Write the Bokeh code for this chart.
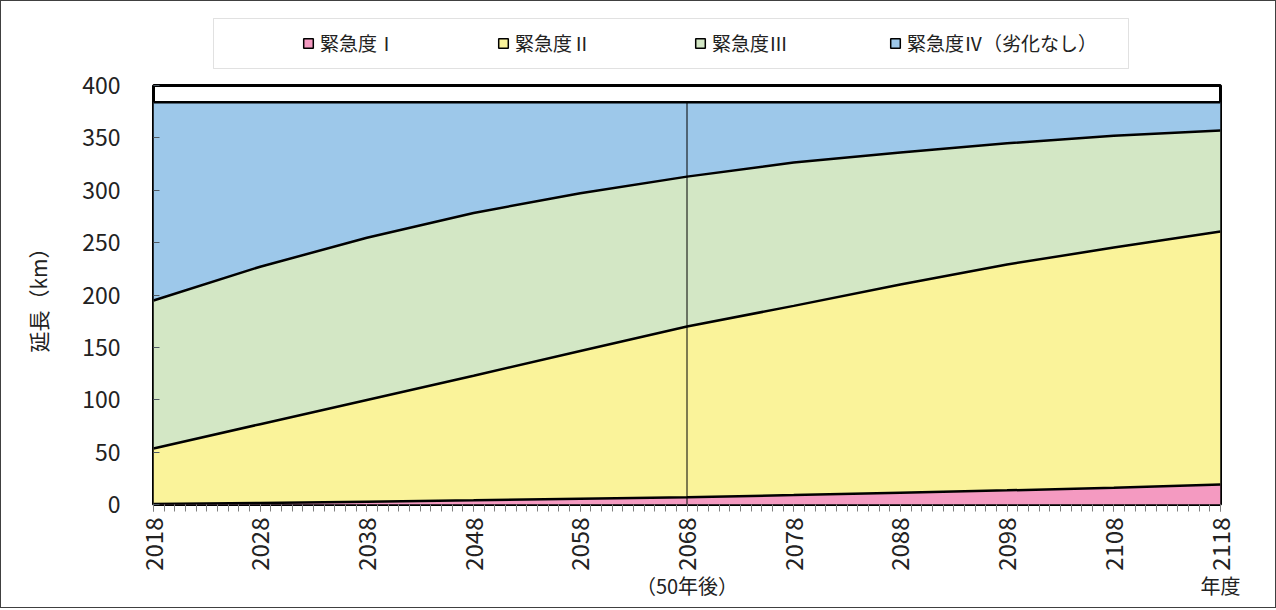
import numpy as np
from bokeh.plotting import figure
from bokeh.layouts import column
from bokeh.models import (ColumnDataSource, Legend, LegendItem, LinearAxis,
                          Range1d, FixedTicker, BoxAnnotation)
from bokeh.embed import file_html
from bokeh.resources import INLINE

# ---- data (km) ----
years = [2018, 2028, 2038, 2048, 2058, 2068, 2078, 2088, 2098, 2108, 2118]
urgency_1 = [0.5, 1.5, 2.7, 4.0, 5.5, 7.0, 9.0, 11.3, 13.5, 16.0, 19.0]
urgency_2 = [53.0, 75.2, 97.1, 118.9, 141.1, 163.0, 180.6, 198.7, 215.6, 229.3, 241.6]
urgency_3 = [141.2, 150.3, 154.8, 155.4, 150.6, 143.0, 136.8, 126.0, 115.7, 106.8, 96.4]
urgency_4 = [189.3, 157.0, 129.4, 105.7, 86.8, 71.0, 57.6, 48.0, 39.2, 31.9, 27.0]

series_names = ["緊急度Ⅰ", "緊急度Ⅱ", "緊急度Ⅲ", "緊急度Ⅳ（劣化なし）"]
x_tick_years = [2018, 2028, 2038, 2048, 2058, 2068, 2078, 2088, 2098, 2108, 2118]
y_ticks = [0, 50, 100, 150, 200, 250, 300, 350, 400]
marker_year = 2068
marker_text = "（50年後）"
x_title = "年度"
y_title = "延長（km）"

colors = ["#F49AC1", "#FAF39A", "#D3E7C5", "#9DC8EA"]
JP = "Noto Sans CJK JP"
TXT = "#222222"

keys = ["s1", "s2", "s3", "s4"]
src = ColumnDataSource(dict(year=years, s1=urgency_1, s2=urgency_2,
                            s3=urgency_3, s4=urgency_4))

# ---------------- legend strip ----------------
lf = figure(width=1274, height=68, x_range=Range1d(0, 1), y_range=Range1d(0, 1),
            output_backend="svg", toolbar_location=None,
            x_axis_location=None, y_axis_location=None,
            min_border_left=152, min_border_right=55, min_border_top=0,
            min_border_bottom=0)
lf.grid.visible = False
lf.outline_line_color = None
lf.border_fill_color = "white"
lf.add_layout(BoxAnnotation(left=212, right=1127, top=17, bottom=67,
                            left_units="canvas", right_units="canvas",
                            top_units="canvas", bottom_units="canvas",
                            fill_color="white", fill_alpha=1,
                            line_color="#9a9a9a", line_width=1))

leg_x = [143, 338, 535, 730]
for name, c, vx in zip(series_names, colors, leg_x):
    # legend proxy only (NaN position, never drawn)
    r = lf.scatter(x=[np.nan], y=[np.nan], marker="square", fill_color=c,
                   line_color="black", line_width=1.5)
    lg = Legend(items=[LegendItem(label=name, renderers=[r])],
                location=(vx, 13), orientation="horizontal",
                glyph_width=24, glyph_height=24, label_standoff=-3,
                padding=0, margin=0, spacing=0, border_line_alpha=0,
                background_fill_alpha=0, label_text_font=JP,
                label_text_font_size="19px", label_text_color=TXT,
                label_height=20)
    lf.add_layout(lg)

# ---------------- main chart ----------------
p = figure(width=1274, height=538, x_range=Range1d(2018, 2118),
           y_range=Range1d(0, 400), output_backend="svg", toolbar_location=None,
           min_border_left=152, min_border_right=55, min_border_top=16,
           min_border_bottom=103)
p.grid.visible = False
p.outline_line_color = "black"
p.outline_line_width = 3
p.border_fill_color = "white"

p.varea_stack(stackers=keys, x="year", color=colors, source=src)

cum = np.cumsum(np.array([urgency_1, urgency_2, urgency_3, urgency_4]), axis=0)
for row in cum:
    p.line(years, row, line_color="black", line_width=2.5)

mi = years.index(marker_year)
p.segment(x0=[marker_year], y0=[0], x1=[marker_year], y1=[cum[-1][mi]],
          line_color="black", line_width=1)

xa = p.xaxis[0]
xa.ticker = FixedTicker(ticks=x_tick_years, minor_ticks=list(range(2018, 2119)))
xa.major_label_orientation = np.pi / 2
xa.major_tick_in = 0
xa.major_tick_out = 7
xa.minor_tick_in = 0
xa.minor_tick_out = 7
xa.major_tick_line_color = "#808080"
xa.minor_tick_line_color = "#808080"
xa.axis_line_color = None
xa.major_label_text_font = JP
xa.major_label_text_font_size = "24px"
xa.major_label_text_color = TXT
xa.major_label_standoff = 6

# second row under the years: (50年後) and 年度
xb = LinearAxis(ticker=FixedTicker(ticks=[marker_year, 2118]),
                major_label_overrides={marker_year: marker_text, 2118: x_title})
xb.major_tick_line_color = None
xb.minor_tick_line_color = None
xb.axis_line_color = None
xb.major_tick_in = 0
xb.major_tick_out = 0
xb.major_label_standoff = -3
xb.major_label_text_font = JP
xb.major_label_text_font_size = "20px"
xb.major_label_text_color = TXT
p.add_layout(xb, "below")

ya = p.yaxis[0]
ya.ticker = FixedTicker(ticks=y_ticks)
ya.major_tick_in = 6
ya.major_tick_out = 0
ya.minor_tick_line_color = None
ya.major_tick_line_color = "#505a64"
ya.axis_line_color = None
ya.major_label_text_font = JP
ya.major_label_text_font_size = "23px"
ya.major_label_text_color = TXT
ya.major_label_standoff = 33
ya.axis_label = y_title
ya.axis_label_text_font = JP
ya.axis_label_text_font_size = "21px"
ya.axis_label_text_font_style = "normal"
ya.axis_label_text_color = TXT
ya.axis_label_standoff = 26

layout = column(lf, p, spacing=0,
                styles={"border": "1px solid #404040", "background": "white"})

open("out.html", "w").write(file_html(layout, INLINE))
